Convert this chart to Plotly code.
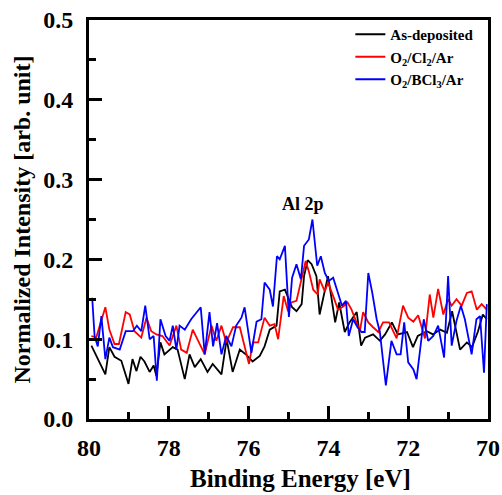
import plotly.graph_objects as go

# ---- data ----
black_x = [79.94, 79.59, 79.49, 79.36, 79.19, 79.01, 78.91, 78.81, 78.71, 78.61, 78.48, 78.38, 78.31,
           78.21, 78.11, 77.90, 77.78, 77.60, 77.48, 77.35, 77.20, 77.03, 76.90, 76.68, 76.55, 76.40,
           76.22, 76.05, 75.90, 75.72, 75.60, 75.47, 75.30, 75.22, 75.09, 74.99, 74.91, 74.80, 74.67,
           74.61, 74.52, 74.42, 74.30, 74.22, 74.09, 74.01, 73.93, 73.83, 73.73, 73.59, 73.47, 73.29,
           73.18, 73.08, 72.88, 72.71, 72.58, 72.41, 72.26, 72.03, 71.88, 71.76, 71.53, 71.38, 71.20,
           71.03, 70.90, 70.70, 70.53, 70.40, 70.25, 70.13, 70.03]
black_y = [0.092, 0.056, 0.090, 0.078, 0.073, 0.044, 0.075, 0.060, 0.078, 0.072, 0.059, 0.067, 0.054,
           0.096, 0.081, 0.090, 0.087, 0.050, 0.081, 0.065, 0.075, 0.059, 0.069, 0.056, 0.100, 0.059,
           0.087, 0.080, 0.072, 0.079, 0.091, 0.112, 0.117, 0.160, 0.162, 0.150, 0.140, 0.135, 0.144,
           0.179, 0.199, 0.194, 0.179, 0.131, 0.162, 0.179, 0.154, 0.121, 0.146, 0.109, 0.121, 0.134,
           0.092, 0.102, 0.106, 0.098, 0.106, 0.121, 0.106, 0.109, 0.090, 0.104, 0.110, 0.106, 0.112,
           0.108, 0.135, 0.087, 0.096, 0.090, 0.110, 0.131, 0.125]

red_x = [79.94, 79.82, 79.59, 79.49, 79.36, 79.25, 79.08, 78.98, 78.86, 78.69, 78.56, 78.44, 78.31,
         78.16, 77.98, 77.81, 77.69, 77.55, 77.40, 77.27, 77.10, 76.93, 76.81, 76.68, 76.56, 76.39,
         76.22, 75.99, 75.89, 75.76, 75.60, 75.47, 75.35, 75.26, 75.12, 75.01, 74.93, 74.80, 74.67,
         74.57, 74.49, 74.38, 74.27, 74.22, 74.09, 74.01, 73.88, 73.76, 73.63, 73.52, 73.42, 73.29,
         73.21, 73.13, 73.00, 72.88, 72.75, 72.63, 72.48, 72.29, 72.13, 72.00, 71.87, 71.75, 71.58,
         71.46, 71.37, 71.25, 71.12, 71.00, 70.91, 70.79, 70.66, 70.53, 70.41, 70.28, 70.16, 70.03]
red_y = [0.104, 0.102, 0.140, 0.112, 0.094, 0.094, 0.134, 0.131, 0.110, 0.102, 0.127, 0.110, 0.106,
         0.104, 0.092, 0.117, 0.087, 0.083, 0.112, 0.098, 0.081, 0.117, 0.098, 0.117, 0.096, 0.115,
         0.115, 0.069, 0.096, 0.096, 0.127, 0.117, 0.119, 0.100, 0.154, 0.135, 0.146, 0.148, 0.175,
         0.198, 0.185, 0.162, 0.156, 0.175, 0.160, 0.171, 0.154, 0.137, 0.141, 0.146, 0.137, 0.121,
         0.110, 0.134, 0.121, 0.115, 0.109, 0.121, 0.121, 0.101, 0.142, 0.127, 0.122, 0.130, 0.101,
         0.156, 0.127, 0.163, 0.131, 0.150, 0.142, 0.150, 0.142, 0.158, 0.160, 0.137, 0.144, 0.137]

blue_x = [79.92, 79.86, 79.78, 79.69, 79.59, 79.49, 79.40, 79.23, 79.08, 78.90, 78.80, 78.69, 78.59,
          78.48, 78.38, 78.30, 78.21, 78.08, 77.98, 77.90, 77.81, 77.73, 77.60, 77.44, 77.20, 77.10,
          76.98, 76.89, 76.79, 76.68, 76.56, 76.43, 76.31, 76.18, 76.10, 75.93, 75.80, 75.68, 75.60,
          75.47, 75.39, 75.29, 75.22, 75.09, 74.99, 74.91, 74.80, 74.69, 74.61, 74.49, 74.40, 74.28,
          74.19, 74.09, 73.99, 73.88, 73.76, 73.66, 73.56, 73.49, 73.38, 73.27, 73.17, 73.09, 73.00,
          72.90, 72.79, 72.71, 72.63, 72.56, 72.42, 72.29, 72.19, 72.10, 72.00, 71.87, 71.79, 71.61,
          71.50, 71.37, 71.25, 71.10, 71.00, 70.91, 70.79, 70.68, 70.58, 70.41, 70.29, 70.20, 70.10,
          70.03]
blue_y = [0.152, 0.104, 0.091, 0.129, 0.075, 0.102, 0.090, 0.087, 0.110, 0.110, 0.117, 0.110, 0.142,
          0.100, 0.104, 0.048, 0.125, 0.104, 0.098, 0.117, 0.087, 0.117, 0.112, 0.125, 0.140, 0.081,
          0.134, 0.091, 0.120, 0.081, 0.104, 0.091, 0.117, 0.127, 0.140, 0.083, 0.122, 0.125, 0.171,
          0.162, 0.141, 0.204, 0.200, 0.217, 0.128, 0.177, 0.194, 0.175, 0.217, 0.225, 0.250, 0.192,
          0.204, 0.183, 0.173, 0.177, 0.158, 0.142, 0.148, 0.104, 0.125, 0.115, 0.109, 0.109, 0.183,
          0.158, 0.125, 0.109, 0.073, 0.042, 0.098, 0.081, 0.081, 0.121, 0.071, 0.062, 0.050, 0.125,
          0.098, 0.104, 0.117, 0.077, 0.179, 0.092, 0.123, 0.142, 0.125, 0.081, 0.125, 0.129, 0.058,
          0.144]

names = ["As-deposited", "O<sub>2</sub>/Cl<sub>2</sub>/Ar", "O<sub>2</sub>/BCl<sub>3</sub>/Ar"]
colors = ["#000000", "#ff0000", "#0000ff"]

FONT = "Liberation Serif"

fig = go.Figure()
for xs, ys, nm, c in [(black_x, black_y, names[0], colors[0]),
                      (red_x, red_y, names[1], colors[1]),
                      (blue_x, blue_y, names[2], colors[2])]:
    fig.add_trace(go.Scatter(x=xs, y=ys, mode="lines", name=nm,
                             line=dict(color=c, width=1.8)))

axis_common = dict(showline=True, linewidth=3, linecolor="black", mirror=True,
                   ticks="inside", ticklen=13, tickwidth=3, tickcolor="black",
                   showgrid=False, zeroline=False, automargin=False,
                   tickfont=dict(family=FONT, size=24, color="black", weight="bold"))

fig.update_xaxes(range=[80, 70], dtick=2, tick0=70, ticklabelstandoff=5,
                 minor=dict(dtick=1, ticks="inside", ticklen=7, tickwidth=3, tickcolor="black"),
                 **axis_common)
fig.update_yaxes(range=[0, 0.5], dtick=0.1, tick0=0, tickformat=".1f", ticklabelstandoff=8,
                 minor=dict(dtick=0.05, ticks="inside", ticklen=7, tickwidth=3, tickcolor="black"),
                 title=dict(text="Normalized Intensity [arb. unit]", standoff=6,
                            font=dict(family=FONT, size=24, color="black", weight="bold")),
                 **axis_common)

# x-axis title (slightly right of centre, as in the reference)
fig.add_annotation(x=0.529, y=-0.149, xref="paper", yref="paper",
                   xanchor="center", yanchor="middle", showarrow=False,
                   text="Binding Energy [eV]",
                   font=dict(family=FONT, size=25, color="black", weight="bold"))

fig.add_annotation(x=74.64, y=0.269, text="Al 2p", showarrow=False,
                   font=dict(family=FONT, size=18, color="black", weight="bold"))

fig.update_layout(
    width=502, height=495,
    margin=dict(l=89, r=14, t=20, b=76),
    plot_bgcolor="white", paper_bgcolor="white",
    legend=dict(x=0.655, y=1.005, xanchor="left", yanchor="top",
                bgcolor="rgba(0,0,0,0)", tracegroupgap=0,
                font=dict(family=FONT, size=15, color="black", weight="bold")),
)

fig.write_html("out.html", config={"displayModeBar": False},
               post_script="document.body.style.margin='0';document.body.style.padding='0';")
